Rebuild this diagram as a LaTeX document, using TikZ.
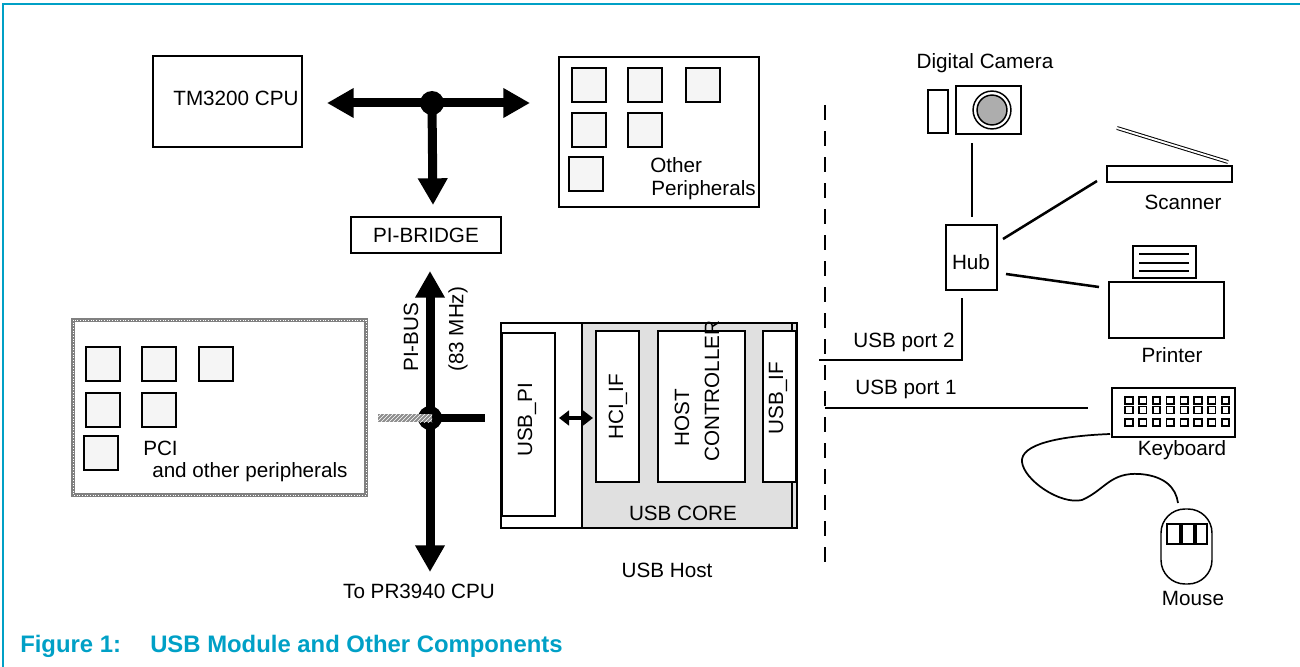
\documentclass[tikz,border=0pt]{standalone}
\usepackage{fontspec}
\setmainfont{Liberation Sans}
\usetikzlibrary{arrows.meta,patterns,fit}
\definecolor{capteal}{RGB}{0,160,198}
\begin{document}
\begin{tikzpicture}[x=0.75pt,y=-0.75pt,
  font=\fontsize{15.5}{18}\selectfont,
  box/.style={draw, line width=1.5pt, inner sep=0pt, fill=white},
  chip/.style={draw, line width=2.2pt, fill=black!4},
  txt/.style={inner sep=0pt},
  bus/.style={line width=6.75pt, -{Triangle[length=20pt,width=21pt]}},
  wire/.style={line width=1.9pt},
  thin box/.style={draw, line width=1.2pt, inner sep=0pt}]
\useasboundingbox (0,0) rectangle (1300,667);

% page frame
\draw[capteal, line width=1.2pt] (3,667) -- (3,4) -- (1300,4);

% ---------------- CPU side ----------------
\node[box, fit={(153,56) (302,147)}] (cpu) {};
\node[txt] (cputxt) at (236,98) {TM3200 CPU};

\node[box, fit={(559,57) (759,207)}] (oper) {};
\foreach \x/\y [count=\i] in {572/68, 628/68, 686/68, 572/113, 628/113, 569/157}
  \draw[chip] (\x,\y) rectangle ++(34,34);
\node[txt, anchor=west] (othr) at (650,165) {Other};
\node[txt, anchor=west] (perp) at (651,190) {Peripherals};

\node[box, fit={(351,217) (501,253)}] (bridge) {};
\node[txt] at (bridge.center) {PI-BRIDGE};

% upper bus
\coordinate (j1) at (432,103);
\coordinate (bl) at (327,103);
\coordinate (br) at (530,103);
\coordinate (bd) at (433,205);
\draw[bus] (j1) -- (bl);
\draw[bus] (j1) -- (br);
\draw[bus] (j1) -- (bd);
\fill (j1) circle (9pt);

% PCI block
\draw[black!50, line width=2.3pt] (73,320) rectangle (366,495);
\draw[white, line width=0.7pt, dash pattern=on 0.7pt off 1.3pt] (73,320) rectangle (366,495);
\foreach \x/\y in {86/347, 142/347, 199/347, 86/393, 142/393, 84/436}
  \draw[chip] (\x,\y) rectangle ++(34,34);
\node[txt, anchor=west] (pci) at (143,448) {PCI};
\node[txt, anchor=west] (pcio) at (152,472) {and other peripherals};

% PI bus
\coordinate (j2) at (430,418);
\coordinate (pt) at (430,271);
\coordinate (pb) at (430,572);
\coordinate (stub) at (485,418);
\draw[bus] (j2) -- (pt);
\draw[bus] (j2) -- (pb);
\draw[line width=6pt] (j2) -- (stub);
\fill (j2) circle (9pt);
\fill[black!45] (378,414) rectangle (432,422);
\fill[pattern=north east lines, pattern color=white] (378,414) rectangle (432,422);
\node[txt, rotate=90, anchor=west] (pibus) at (411,372) {PI-BUS};
\node[txt, rotate=90, anchor=west] (mhz) at (458,372) {(83 MHz)};
\node[txt] (topr) at (419,591) {To PR3940 CPU};

% ---------------- USB host ----------------
\fill[black!12] (582,323) rectangle (797,528);
\draw[line width=1.6pt] (501,323) rectangle (797,528);
\draw[line width=1.6pt] (582,323) -- (582,528);
\draw[line width=0.8pt] (792,323) -- (792,528);
\node[box, fit={(502,333) (555,516)}] (usbpi) {};
\node[txt, rotate=90] at (527,420) {USB\_PI};
\node[box, fit={(596,331) (639,482)}] (hcif) {};
\node[txt, rotate=90] at (618,407) {HCI\_IF};
\node[box, fit={(658,331) (745,482)}] (hc) {};
\node[txt, rotate=90] at (682,418) {HOST};
\node[txt, rotate=90] at (712,391) {CONTROLLER};
\node[box, fit={(763,331) (796,482)}] (usbif) {};
\node[txt, rotate=90] at (778,398) {USB\_IF};
\node[txt] (core) at (683,513) {USB CORE};
\node[txt] (host) at (667,570) {USB Host};
\coordinate (al) at (559,418);
\coordinate (ar) at (593,418);
\draw[line width=2.4pt, {Triangle[length=7.5pt,width=11pt]}-{Triangle[length=7.5pt,width=11pt]}] (al) -- (ar);

% boundary
\coordinate (dt) at (825,105);
\coordinate (db) at (825,572);
\draw[line width=2.2pt, dash pattern=on 11pt off 8.5pt] (dt) -- (db);

% ports
\coordinate (p2a) at (819,360);
\coordinate (p2b) at (962,360);
\coordinate (p2c) at (962,298);
\draw[wire] (p2a) -- (p2b) -- (p2c);
\node[txt] at (904,342) {USB port 2};
\coordinate (p1a) at (825,408);
\coordinate (p1b) at (1088,408);
\draw[wire] (p1a) -- (p1b);
\node[txt] at (906,389) {USB port 1};

% ---------------- devices ----------------
% camera
\node[txt] at (985,63) {Digital Camera};
\node[thin box, fit={(928,90) (948,133)}] (camside) {};
\node[thin box, fit={(956,86) (1021,134)}] (cam) {};
\draw[line width=1.1pt] (992,110) circle (14.2pt);
\draw[line width=1.1pt, fill=black!32] (992,110) circle (11.2pt);
\coordinate (c1) at (972,143);
\coordinate (c2) at (972,217);
\draw[wire] (c1) -- (c2);

% hub
\node[thin box, fit={(946,225) (997,290)}] (hub) {};
\node[txt] at (971,262) {Hub};

% scanner
\draw[line width=0.75pt, double, double distance=1.4pt] (1117,128) -- (1228,162);
\node[thin box, fit={(1107,166) (1232,182)}] (scan) {};
\node[txt] at (1183,202) {Scanner};
\coordinate (h1) at (1003,239);
\coordinate (s1) at (1097,181);
\draw[wire] (h1) -- (s1);

% printer
\node[thin box, fit={(1133,246) (1196,278)}] (paper) {};
\foreach \y in {254,263,271} \draw[line width=1.2pt] (1139,\y) -- (1189,\y);
\node[thin box, fit={(1109,282) (1224,338)}] (prn) {};
\node[txt] at (1172,355) {Printer};
\coordinate (h2) at (1006,274);
\coordinate (r1) at (1099,287);
\draw[wire] (h2) -- (r1);

% keyboard
\node[thin box, fit={(1112,388) (1235,437)}] (kbd) {};
\foreach \k in {0,...,7}
  \foreach \y in {400.5,410,422.5}
    \draw[line width=1.3pt] ({1125.2+13.8*\k},{\y-3.5}) rectangle ++(7.5,7);
\node[txt] at (1182,450) {Keyboard};

% mouse
\draw[line width=1.1pt, rounded corners=18pt] (1161,509) rectangle (1212,584);
\foreach \a/\b in {1167/1180, 1182/1194, 1196/1207}
  \draw[line width=2pt] (\a,524) rectangle (\b,544);
\node[txt] at (1193,598) {Mouse};
\coordinate (m0) at (1110,434);
\coordinate (m1) at (1178,503);
\draw[line width=1.3pt] (m0) .. controls (1060,436) and (1020,444) .. (1022,462)
  .. controls (1024,480) and (1060,505) .. (1082,500)
  .. controls (1105,490) and (1110,472) .. (1140,474)
  .. controls (1165,476) and (1176,488) .. (m1);

% caption
\node[txt, anchor=west, text=capteal, font=\fontsize{17.9}{20}\selectfont\bfseries] (figno) at (20,646) {Figure 1:};
\node[txt, anchor=west, text=capteal, font=\fontsize{17.9}{20}\selectfont\bfseries] (figttl) at (150,646) {USB Module and Other Components};
\end{tikzpicture}
\end{document}
